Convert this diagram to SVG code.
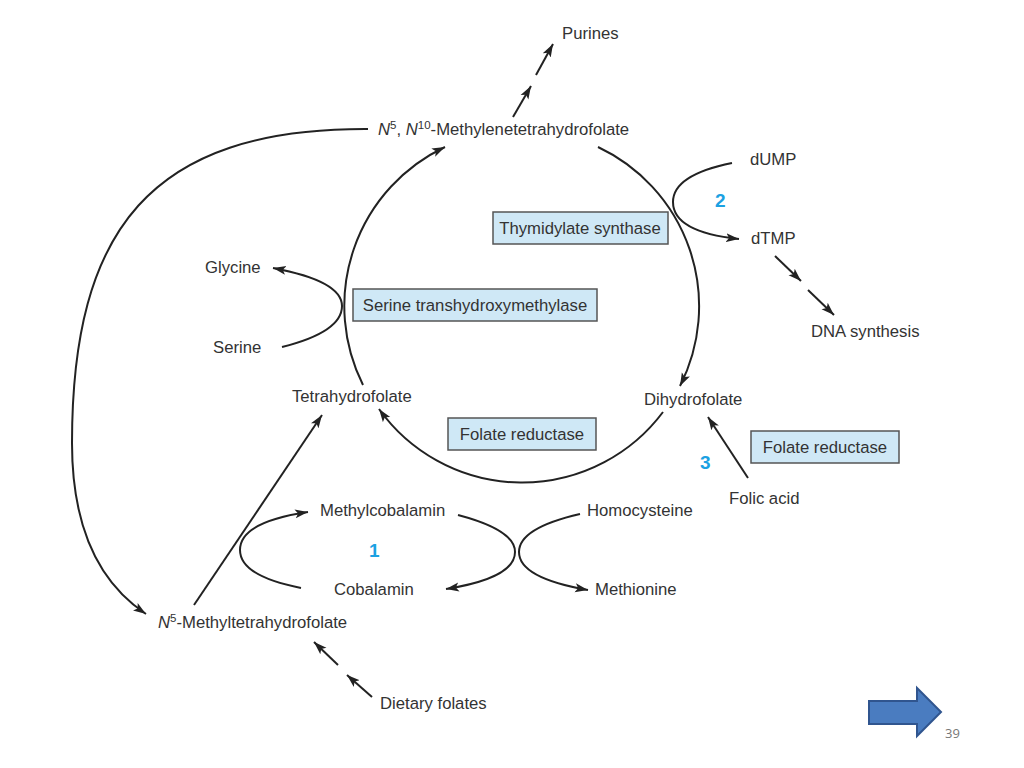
<svg xmlns="http://www.w3.org/2000/svg" width="1024" height="768" viewBox="0 0 1024 768">
<style>
text{font-family:"Liberation Sans",Arial,sans-serif;font-size:16.7px;fill:#333}
.box rect{fill:#cfe8f6;stroke:#555;stroke-width:1.5}
.box text{text-anchor:middle}
.num{font-size:19px;font-weight:bold;fill:#1ba1e2}
.c path,.c line{fill:none;stroke:#222;stroke-width:2}
.sup{font-size:11.5px}
</style>
<defs>
<marker id="ah" markerUnits="userSpaceOnUse" markerWidth="14" markerHeight="10" refX="13" refY="5" orient="auto">
<path d="M0,0.5 L13,5 L0,9.5 L3,5 z" fill="#222"/>
</marker>
</defs>
<rect width="1024" height="768" fill="#fff"/>
<g class="c" id="connectors">
<path d="M363,385 A176,176 0 0 1 445,147" marker-end="url(#ah)"/>
<path d="M598,147 A176,176 0 0 1 680,386" marker-end="url(#ah)"/>
<path d="M663,412 A176,176 0 0 1 379,409" marker-end="url(#ah)"/>
<line x1="513" y1="117" x2="531" y2="86" marker-end="url(#ah)"/>
<line x1="536" y1="75" x2="553" y2="44" marker-end="url(#ah)"/>
<path d="M368,129 C150,128 72,230 72,443 C72,520 95,580 146,614" marker-end="url(#ah)"/>
<path d="M282,347 Q342,332 342,306 Q342,281 273,268" marker-end="url(#ah)"/>
<path d="M732,163 Q673,175 673,202 Q673,232 739,239" marker-end="url(#ah)"/>
<line x1="775" y1="256" x2="801" y2="281" marker-end="url(#ah)"/>
<line x1="808" y1="290" x2="834" y2="315" marker-end="url(#ah)"/>
<line x1="748" y1="478" x2="708" y2="417" marker-end="url(#ah)"/>
<line x1="194" y1="605" x2="322" y2="415" marker-end="url(#ah)"/>
<path d="M301,588 Q240,576 240,550 Q240,522 308,512" marker-end="url(#ah)"/>
<path d="M458,515 Q515,530 515,552 Q515,578 446,589" marker-end="url(#ah)"/>
<path d="M580,514 Q519,528 519,552 Q519,578 588,590" marker-end="url(#ah)"/>
<line x1="372" y1="697" x2="347" y2="675" marker-end="url(#ah)"/>
<line x1="338" y1="665" x2="314" y2="642" marker-end="url(#ah)"/>
</g>
<g id="purines"><text x="562" y="39">Purines</text></g>
<g id="methylene"><text x="378" y="135"><tspan font-style="italic">N</tspan><tspan class="sup" dy="-6">5</tspan><tspan dy="6">, </tspan><tspan font-style="italic">N</tspan><tspan class="sup" dy="-6">10</tspan><tspan dy="6">-Methylenetetrahydrofolate</tspan></text></g>
<g id="dump"><text x="750" y="165">dUMP</text></g>
<g id="n2"><text class="num" x="715" y="207">2</text></g>
<g id="ts" class="box"><rect x="493" y="212" width="175" height="32"/><text x="580" y="234">Thymidylate synthase</text></g>
<g id="dtmp"><text x="751" y="244">dTMP</text></g>
<g id="glycine"><text x="205" y="273">Glycine</text></g>
<g id="sht" class="box"><rect x="353" y="289" width="244" height="32"/><text x="475" y="311">Serine transhydroxymethylase</text></g>
<g id="serine"><text x="213" y="353">Serine</text></g>
<g id="dna"><text x="811" y="337">DNA synthesis</text></g>
<g id="thf"><text x="292" y="402">Tetrahydrofolate</text></g>
<g id="dhf"><text x="644" y="405">Dihydrofolate</text></g>
<g id="fr1" class="box"><rect x="448" y="418" width="148" height="32"/><text x="522" y="440">Folate reductase</text></g>
<g id="fr2" class="box"><rect x="751" y="431" width="148" height="32"/><text x="825" y="453">Folate reductase</text></g>
<g id="n3"><text class="num" x="700" y="469">3</text></g>
<g id="folic"><text x="729" y="504">Folic acid</text></g>
<g id="mecbl"><text x="320" y="516">Methylcobalamin</text></g>
<g id="hcy"><text x="587" y="516">Homocysteine</text></g>
<g id="n1"><text class="num" x="369" y="557">1</text></g>
<g id="cbl"><text x="334" y="595">Cobalamin</text></g>
<g id="met"><text x="595" y="595">Methionine</text></g>
<g id="methylthf"><text x="158" y="628"><tspan font-style="italic">N</tspan><tspan class="sup" dy="-6">5</tspan><tspan dy="6">-Methyltetrahydrofolate</tspan></text></g>
<g id="dietary"><text x="380" y="709">Dietary folates</text></g>
<g id="nav"><path d="M869,701 H917 V688 L941,712 L917,736 V724 H869 Z" fill="#4a7cc0" stroke="#30558f" stroke-width="2"/></g>
<g id="page"><text x="945" y="738" style="font-family:'Open Sans','Liberation Sans',sans-serif;font-size:13px;fill:#777">39</text></g>
</svg>
